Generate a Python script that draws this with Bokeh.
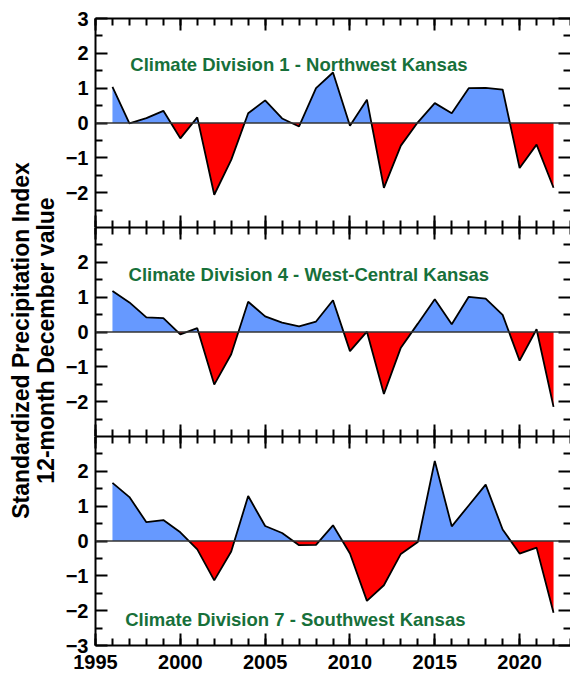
import numpy as np
from bokeh.plotting import figure
from bokeh.models import (Range1d, LinearAxis, FixedTicker, Label, Span,
                          ColumnDataSource, CustomJSTickFormatter)
from bokeh.layouts import row, column
from bokeh.core.properties import value
from bokeh.embed import file_html
from bokeh.resources import INLINE

# ---------------- data ----------------
years = list(range(1996, 2023))

div1 = [1.04, -0.01, 0.14, 0.35, -0.44, 0.16, -2.06, -1.06, 0.28, 0.65, 0.13,
        -0.10, 1.00, 1.45, -0.08, 0.67, -1.86, -0.65, 0.02, 0.57, 0.28, 1.00,
        1.01, 0.96, -1.29, -0.62, -1.86]
div4 = [1.18, 0.85, 0.42, 0.40, -0.07, 0.11, -1.51, -0.64, 0.87, 0.45, 0.27,
        0.16, 0.30, 0.91, -0.55, 0.01, -1.78, -0.45, 0.24, 0.94, 0.22, 1.01,
        0.96, 0.49, -0.82, 0.08, -2.15]
div7 = [1.67, 1.26, 0.54, 0.60, 0.25, -0.24, -1.13, -0.30, 1.29, 0.43, 0.23,
        -0.12, -0.11, 0.45, -0.36, -1.72, -1.27, -0.37, -0.03, 2.30, 0.42, 1.02,
        1.62, 0.33, -0.36, -0.19, -2.06]

panel_titles = ["Climate Division 1 - Northwest Kansas",
                "Climate Division 4 - West-Central Kansas",
                "Climate Division 7 - Southwest Kansas"]
x_major = [1995, 2000, 2005, 2010, 2015, 2020]
x_minor = list(range(1995, 2024))
y_major_sets = [[-2, -1, 0, 1, 2, 3], [-2, -1, 0, 1, 2], [-3, -2, -1, 0, 1, 2]]
y_minor = [-2.5, -1.5, -0.5, 0.5, 1.5, 2.5]
ytitle_lines = ["Standardized Precipitation Index", "12-month December value"]

BLUE = "#6699FF"
RED = "#FF0000"
GREEN = "#17703A"
FONT = "Liberation Sans"


def split_at_zero(xs, ys):
    px, py = [xs[0]], [ys[0]]
    for i in range(1, len(xs)):
        y0, y1 = ys[i - 1], ys[i]
        if y0 * y1 < 0:
            xc = xs[i - 1] + (xs[i] - xs[i - 1]) * y0 / (y0 - y1)
            px.append(xc)
            py.append(0.0)
        px.append(xs[i])
        py.append(ys[i])
    return np.array(px, dtype=float), np.array(py, dtype=float)


def style_axis(ax, labels, line=True, standoff=7):
    ax.axis_line_width = 2
    ax.axis_line_color = "black" if line else None
    ax.major_tick_in = 12
    ax.major_tick_out = 0
    ax.minor_tick_in = 7
    ax.minor_tick_out = 0
    ax.major_tick_line_width = 2
    ax.minor_tick_line_width = 2
    ax.major_tick_line_color = "black"
    ax.minor_tick_line_color = "black"
    ax.major_label_text_font = FONT
    ax.major_label_text_font_style = "bold"
    ax.major_label_text_color = "black"
    if labels:
        ax.major_label_text_font_size = "20px"
        ax.major_label_standoff = standoff
    else:
        ax.formatter = CustomJSTickFormatter(code="return ''")
        ax.major_label_text_font_size = "0px"
        ax.major_label_standoff = 0


def make_panel(vals, title, lab_x, lab_y, ymaj, top_b, bot_b, xlabels):
    p = figure(frame_width=475, frame_height=209,
               x_range=Range1d(1995, 2023), y_range=Range1d(-3, 3),
               x_axis_type=None, y_axis_type=None,
               output_backend="svg", toolbar_location=None,
               min_border_left=35, min_border_right=0,
               min_border_top=top_b, min_border_bottom=bot_b)
    p.outline_line_color = None
    p.background_fill_color = "white"
    p.border_fill_color = "white"

    xt = FixedTicker(ticks=x_major, minor_ticks=x_minor)
    yt = FixedTicker(ticks=ymaj, minor_ticks=y_minor)

    left = LinearAxis(ticker=yt)
    style_axis(left, True, standoff=7)
    p.add_layout(left, "left")
    right = LinearAxis(ticker=yt)
    style_axis(right, False, line=False)
    p.add_layout(right, "right")
    below = LinearAxis(ticker=xt)
    style_axis(below, xlabels, standoff=9)
    p.add_layout(below, "below")
    above = LinearAxis(ticker=xt)
    style_axis(above, False)
    p.add_layout(above, "above")

    px, py = split_at_zero(years, vals)
    src = ColumnDataSource(dict(x=px, pos=np.maximum(py, 0), neg=np.minimum(py, 0)))
    p.varea(x="x", y1=0, y2="pos", source=src, fill_color=BLUE)
    p.varea(x="x", y1=0, y2="neg", source=src, fill_color=RED)
    p.add_layout(Span(location=0, dimension="width", line_color="#333333",
                      line_width=1.5))
    p.line(years, vals, line_color="black", line_width=1.8)

    p.add_layout(Label(x=lab_x, y=lab_y, text=title, text_font=FONT,
                       text_font_style="bold", text_font_size="18.5px",
                       text_color=GREEN, text_baseline="alphabetic",
                       text_align="left"))
    return p


p1 = make_panel(div1, panel_titles[0], 1997.05, 1.69, y_major_sets[0], 18, 0, False)
p2 = make_panel(div4, panel_titles[1], 1996.95, 1.66, y_major_sets[1], 0, 0, False)
p3 = make_panel(div7, panel_titles[2], 1996.75, -2.26, y_major_sets[2], 0, 30, True)

# y-axis title column
t = figure(width=60, height=675, x_range=Range1d(0, 60), y_range=Range1d(0, 675),
           x_axis_type=None, y_axis_type=None, output_backend="svg",
           toolbar_location=None, min_border=0)
t.outline_line_color = None
t.text(x=[20.5, 45.5], y=[335, 335], text=ytitle_lines, angle=np.pi / 2,
       text_font=value(FONT), text_font_style="bold", text_font_size="23px",
       text_color="black", text_align="center", text_baseline="middle")

layout = row(t, column(p1, p2, p3))

open("out.html", "w").write(file_html(layout, INLINE))
